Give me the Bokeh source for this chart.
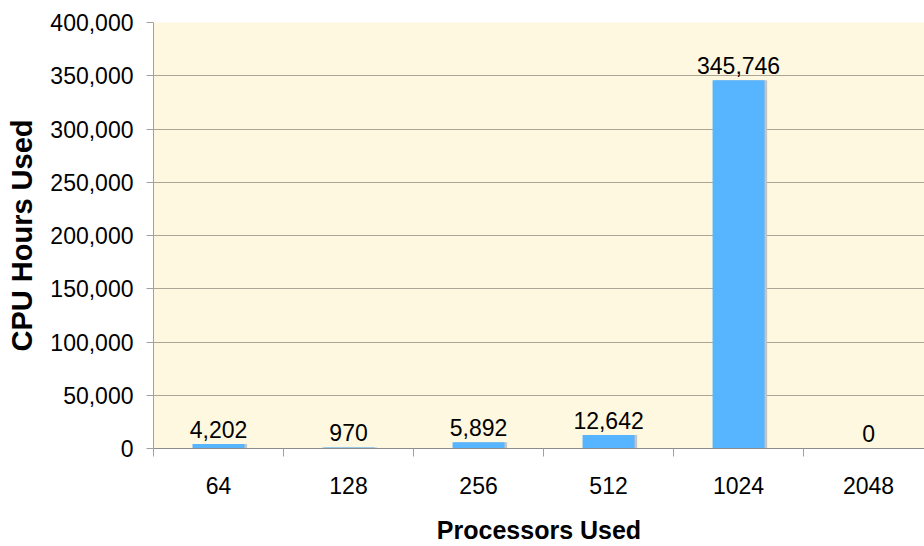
from bokeh.plotting import figure
from bokeh.models import ColumnDataSource, FixedTicker, NumeralTickFormatter, Range1d
from bokeh.core.properties import value
from bokeh.transform import dodge
from bokeh.embed import file_html
from bokeh.resources import INLINE

processors = ["64", "128", "256", "512", "1024", "2048"]
cpu_hours = [4202, 970, 5892, 12642, 345746, 0]
y_ticks = [0, 50000, 100000, 150000, 200000, 250000, 300000, 350000, 400000]

centers = [i + 0.5 for i in range(len(processors))]
bounds = [float(i) for i in range(len(processors) + 1)]
labels = ["{:,}".format(v) for v in cpu_hours]

src = ColumnDataSource(dict(x=centers, top=cpu_hours, label=labels))

FONT = "Liberation Sans"

p = figure(width=924, height=546, output_backend="svg", toolbar_location=None,
           x_range=Range1d(0, 5.93), y_range=Range1d(0, 400000),
           min_border_left=153, min_border_right=0, min_border_top=22, min_border_bottom=95)
p.outline_line_color = None
p.background_fill_color = "#FFF8E0"
p.border_fill_color = "white"

# shadow then bars
p.vbar(x=dodge("x", 0.02, range=p.x_range), top="top", bottom=0, width=0.4, source=src,
       fill_color="#C4C4C4", line_color=None)
p.vbar(x="x", top="top", bottom=0, width=0.4, source=src,
       fill_color="#57B4FE", line_color=None)

p.text(x="x", y="top", text="label", source=src, text_align="center",
       text_baseline="alphabetic", y_offset=-15, text_font_size="23px",
       text_font=value(FONT), text_color="black")

# x axis
p.xaxis.ticker = FixedTicker(ticks=centers, minor_ticks=bounds)
p.xaxis.major_label_overrides = {c: lab for c, lab in zip(centers, processors)}
p.xaxis.major_tick_out = 0
p.xaxis.major_tick_in = 0
p.xaxis.minor_tick_out = 8
p.xaxis.minor_tick_in = 0
p.xaxis.minor_tick_line_color = "#A0A0A0"
p.xaxis.axis_line_color = "#8C8C8C"
p.xaxis.major_label_standoff = 20
p.xaxis.major_label_text_font = FONT
p.xaxis.major_label_text_font_size = "23px"
p.xaxis.major_label_text_color = "black"
p.xaxis.axis_label = "Processors Used"
p.xaxis.axis_label_text_font = FONT
p.xaxis.axis_label_text_font_size = "25px"
p.xaxis.axis_label_text_font_style = "bold"
p.xaxis.axis_label_text_color = "black"
p.xaxis.axis_label_standoff = 19

# y axis
p.yaxis.ticker = FixedTicker(ticks=y_ticks)
p.yaxis.formatter = NumeralTickFormatter(format="0,0")
p.yaxis.major_tick_out = 7
p.yaxis.major_tick_in = 0
p.yaxis.minor_tick_out = 0
p.yaxis.minor_tick_in = 0
p.yaxis.major_tick_line_color = "#A0A0A0"
p.yaxis.axis_line_color = "#A0A0A0"
p.yaxis.major_label_standoff = 13
p.yaxis.major_label_text_font = FONT
p.yaxis.major_label_text_font_size = "23px"
p.yaxis.major_label_text_color = "black"
p.yaxis.axis_label = "CPU Hours Used"
p.yaxis.axis_label_text_font = FONT
p.yaxis.axis_label_text_font_size = "29px"
p.yaxis.axis_label_text_font_style = "bold"
p.yaxis.axis_label_text_color = "black"
p.yaxis.axis_label_standoff = 9

p.xgrid.grid_line_color = None
p.ygrid.grid_line_color = "#ACA595"
p.ygrid.grid_line_width = 1

open("out.html", "w").write(file_html(p, INLINE))
